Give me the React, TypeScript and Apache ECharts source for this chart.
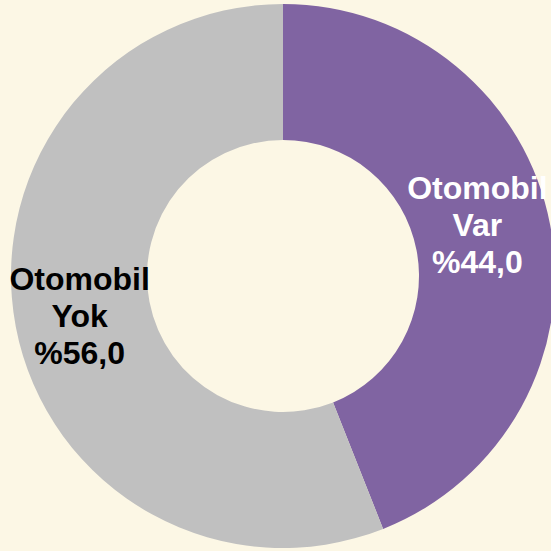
import React, { useEffect, useRef } from "react";
import * as echarts from "echarts";

const categories = ["Otomobil\nVar", "Otomobil\nYok"];
const values = [44.0, 56.0];
const colors = ["#8064A2", "#C0C0C0"];
const labelColors = ["#FFFFFF", "#000000"];

export default function App() {
  const ref = useRef<HTMLDivElement>(null);
  useEffect(() => {
    document.body.style.margin = "0";
    const chart = echarts.init(ref.current!, undefined, { renderer: "svg" });
    chart.setOption({
      animation: false,
      backgroundColor: "#FCF7E5",
      series: [
        {
          type: "pie",
          center: [283, 276],
          radius: [136, 272],
          startAngle: 90,
          clockwise: true,
          silent: true,
          label: {
            show: true,
            position: "inside",
            fontFamily: "Liberation Sans, Arial, sans-serif",
            fontWeight: "bold",
            fontSize: 32,
            lineHeight: 37,
            align: "center",
            formatter: (p: any) => `${p.name}\n%${p.value.toFixed(1).replace(".", ",")}`,
          },
          labelLine: { show: false },
          data: categories.map((c, i) => ({
            name: c,
            value: values[i],
            itemStyle: { color: colors[i] },
            label: {
              color: labelColors[i],
              offset: i === 0 ? [-9, -12] : [0, 1],
            },
          })),
        },
      ],
    });
    return () => chart.dispose();
  }, []);
  return <div ref={ref} style={{ position: "absolute", left: 0, top: 0, width: 551, height: 551 }} />;
}
